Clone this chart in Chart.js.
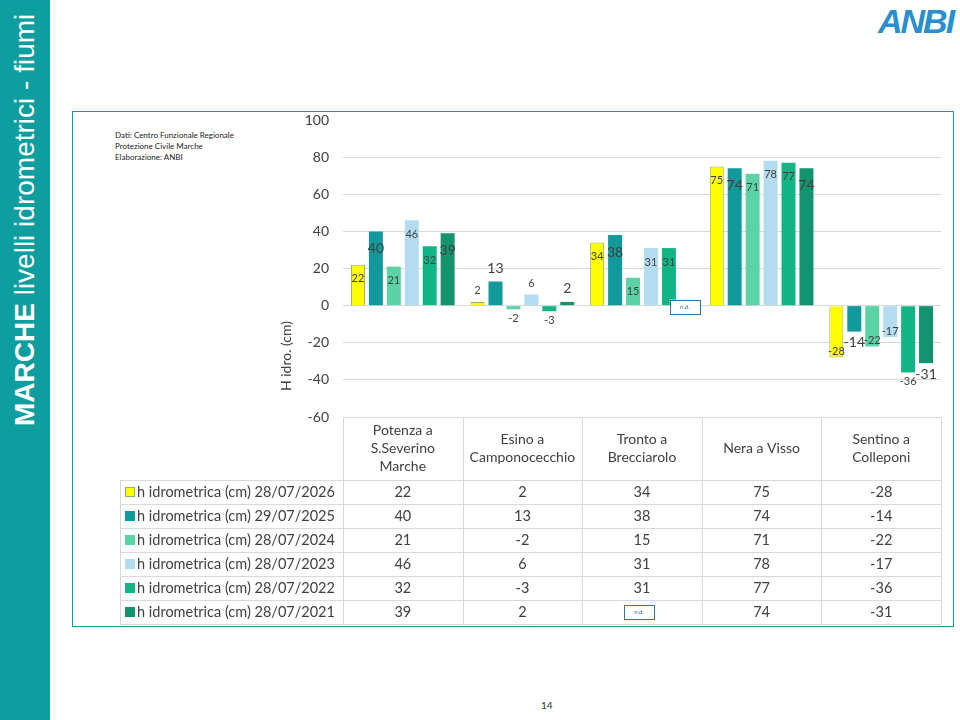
<!DOCTYPE html>
<html>
<head>
<meta charset="utf-8">
<script src="https://cdn.jsdelivr.net/npm/chart.js@4/dist/chart.umd.min.js"></script>
<style>
  body { margin: 0; width: 960px; height: 720px; background: #fff; overflow: hidden; font-family: Lato, "Liberation Sans", sans-serif; }
  #side { position: absolute; left: 0; top: 0; width: 50px; height: 720px; background: #0E9EA0; }
  #sideTxt { position: absolute; left: 25px; top: 426px; transform-origin: 0 0; transform: rotate(-90deg) translateY(-50%);
    white-space: nowrap; color: #fff; font-family: "Liberation Sans", Arial, sans-serif; font-size: 28px; line-height: 32px; }
  #frame { position: absolute; left: 72px; top: 111px; width: 880px; height: 514px; border: 1.5px solid #1A9A9C; }
  #logo { position: absolute; left: 878px; top: 2px; font-family: "Liberation Sans", Arial, sans-serif; font-weight: bold; font-style: italic;
    font-size: 34px; letter-spacing: -2px; color: #2B8FCF; }
  #page { position: absolute; left: 541px; top: 699px; font-size: 10px; color: #333; }
  #note { position: absolute; left: 115px; top: 130px; font-size: 8px; line-height: 11px; color: #222; }
  canvas { position: absolute; left: 0; top: 0; }
</style>
</head>
<body>
<div id="side"><div id="sideTxt"><b>MARCHE</b> livelli idrometrici - fiumi</div></div>
<div id="frame"></div>
<div id="logo">ANBI</div>
<div id="note">Dati: Centro Funzionale Regionale<br>Protezione Civile Marche<br>Elaborazione: ANBI</div>
<div id="page">14</div>
<canvas id="chart" width="960" height="720"></canvas>
<script>
// stations (header lines for the table)
const stations = [
  ["Potenza a", "S.Severino", "Marche"],
  ["Esino a", "Camponocecchio"],
  ["Tronto a", "Brecciarolo"],
  ["Nera a Visso"],
  ["Sentino a", "Colleponi"],
];
const seriesNames = [
  "h idrometrica (cm) 28/07/2026",
  "h idrometrica (cm) 29/07/2025",
  "h idrometrica (cm) 28/07/2024",
  "h idrometrica (cm) 28/07/2023",
  "h idrometrica (cm) 28/07/2022",
  "h idrometrica (cm) 28/07/2021",
];
const h2026 = [22, 2, 34, 75, -28];
const h2025 = [40, 13, 38, 74, -14];
const h2024 = [21, -2, 15, 71, -22];
const h2023 = [46, 6, 31, 78, -17];
const h2022 = [32, -3, 31, 77, -36];
const h2021 = [39, 2, null, 74, -31];
const yTicks = [100, 80, 60, 40, 20, 0, -20, -40, -60];

const colors = ["#FFFF00", "#12999B", "#5CD3A7", "#B4DCF0", "#14B584", "#13936E"];
const bigLabel = [false, true, false, false, false, true];
const allSeries = [h2026, h2025, h2024, h2023, h2022, h2021];

const FONT = "Lato, 'Liberation Sans', sans-serif";
const TXT = "#404040";
const GRID = "#D9D9D9";

// data labels + n.d. markers + data table under the chart
const tablePlugin = {
  id: "tablePlugin",
  afterDatasetsDraw(chart) {
    const ctx = chart.ctx;
    const x = chart.scales.x;
    const y = chart.scales.y;
    const area = chart.chartArea;
    ctx.save();

    // bar labels
    chart.data.datasets.forEach((ds, di) => {
      const meta = chart.getDatasetMeta(di);
      meta.data.forEach((bar, i) => {
        const v = ds.data[i];
        if (v === null) {
          ndBox(ctx, bar.x - 2, y.getPixelForValue(0) - 6);
          return;
        }
        const size = bigLabel[di] ? 14 : 11;
        ctx.font = size + "px " + FONT;
        ctx.fillStyle = TXT;
        ctx.textAlign = "center";
        ctx.textBaseline = "middle";
        let ly;
        if (v >= 15) ly = bar.y + size + 3;
        else if (v >= 0) ly = bar.y - size * 0.5 - 6;
        else if (v > -15 || v < -30) ly = bar.y + size * 0.5 + 4;
        else ly = bar.y - 6;
        ctx.fillText(String(v), bar.x, ly);
      });
    });

    // table
    const colW = (area.right - area.left) / stations.length;
    const top = area.bottom;
    const headH = 63;
    const rowH = 24;
    const legL = 120;
    const bottom = top + headH + rowH * seriesNames.length;
    ctx.strokeStyle = GRID;
    ctx.lineWidth = 1;
    ctx.beginPath();
    ctx.moveTo(area.left, top + 0.5); ctx.lineTo(area.right, top + 0.5);
    for (let r = 0; r <= seriesNames.length; r++) {
      const yy = Math.round(top + headH + r * rowH) + 0.5;
      ctx.moveTo(legL, yy); ctx.lineTo(area.right, yy);
    }
    for (let c = 0; c <= stations.length; c++) {
      const xx = Math.round(area.left + c * colW) + 0.5;
      ctx.moveTo(xx, top); ctx.lineTo(xx, bottom);
    }
    ctx.moveTo(legL + 0.5, top + headH); ctx.lineTo(legL + 0.5, bottom);
    ctx.stroke();

    ctx.fillStyle = TXT;
    ctx.textAlign = "center";
    ctx.textBaseline = "middle";
    ctx.font = "14px " + FONT;
    stations.forEach((lines, c) => {
      const cx = x.getPixelForValue(c);
      const lh = 18;
      const y0 = top + headH / 2 - (lines.length - 1) * lh / 2;
      lines.forEach((t, k) => ctx.fillText(t, cx, y0 + k * lh));
    });
    ctx.font = "14.5px " + FONT;
    seriesNames.forEach((name, r) => {
      const cy = top + headH + r * rowH + rowH / 2;
      ctx.fillStyle = colors[r];
      ctx.fillRect(125, cy - 5, 10, 10);
      if (r === 0) { ctx.strokeStyle = "#8FAF6A"; ctx.strokeRect(125.5, cy - 4.5, 9, 9); }
      ctx.fillStyle = TXT;
      ctx.textAlign = "left";
      ctx.fillText(name, 137, cy);
      ctx.textAlign = "center";
      allSeries[r].forEach((v, c) => {
        const cx = x.getPixelForValue(c);
        if (v === null) ndBox(ctx, cx - 3, cy - 7);
        else ctx.fillText(String(v), cx, cy);
      });
    });

    // y axis title
    ctx.save();
    ctx.translate(286, 356);
    ctx.rotate(-Math.PI / 2);
    ctx.font = "14px " + FONT;
    ctx.fillStyle = TXT;
    ctx.textAlign = "center";
    ctx.textBaseline = "middle";
    ctx.fillText("H idro. (cm)", 0, 0);
    ctx.restore();

    ctx.restore();
  },
};

function ndBox(ctx, cx, ty) {
  ctx.save();
  ctx.fillStyle = "#fff";
  ctx.fillRect(cx - 15, ty, 30, 14);
  ctx.strokeStyle = "#2E75B6";
  ctx.lineWidth = 1;
  ctx.strokeRect(Math.round(cx - 15) + 0.5, Math.round(ty) + 0.5, 30, 14);
  ctx.fillStyle = "#2E75B6";
  ctx.font = "6px " + FONT;
  ctx.textAlign = "center";
  ctx.textBaseline = "middle";
  ctx.fillText("n.d.", cx, ty + 7);
  ctx.restore();
}

new Chart(document.getElementById("chart"), {
  type: "bar",
  data: {
    labels: stations.map(s => s.join(" ")),
    datasets: seriesNames.map((name, i) => ({
      label: name,
      data: allSeries[i],
      backgroundColor: colors[i],
      borderColor: i === 0 ? "#8FAF6A" : colors[i],
      borderWidth: i === 0 ? 1 : 0,
      barPercentage: 0.78,
      categoryPercentage: 0.9,
    })),
  },
  options: {
    responsive: false,
    animation: false,
    devicePixelRatio: 1,
    layout: { padding: { left: 0, right: 19, top: 120, bottom: 303 } },
    plugins: {
      legend: { display: false },
      tooltip: { enabled: false },
    },
    scales: {
      x: { display: false },
      y: {
        min: -60,
        max: 100,
        afterFit: s => { s.width = 343; },
        afterBuildTicks: s => { s.ticks = yTicks.map(v => ({ value: v })); },
        border: { display: false },
        grid: {
          drawTicks: false,
          color: c => (c.tick && c.tick.value === 100 ? "rgba(0,0,0,0)" : GRID),
        },
        ticks: { padding: 14, color: TXT, font: { family: FONT, size: 14 } },
      },
    },
  },
  plugins: [tablePlugin],
});
</script>
</body>
</html>
